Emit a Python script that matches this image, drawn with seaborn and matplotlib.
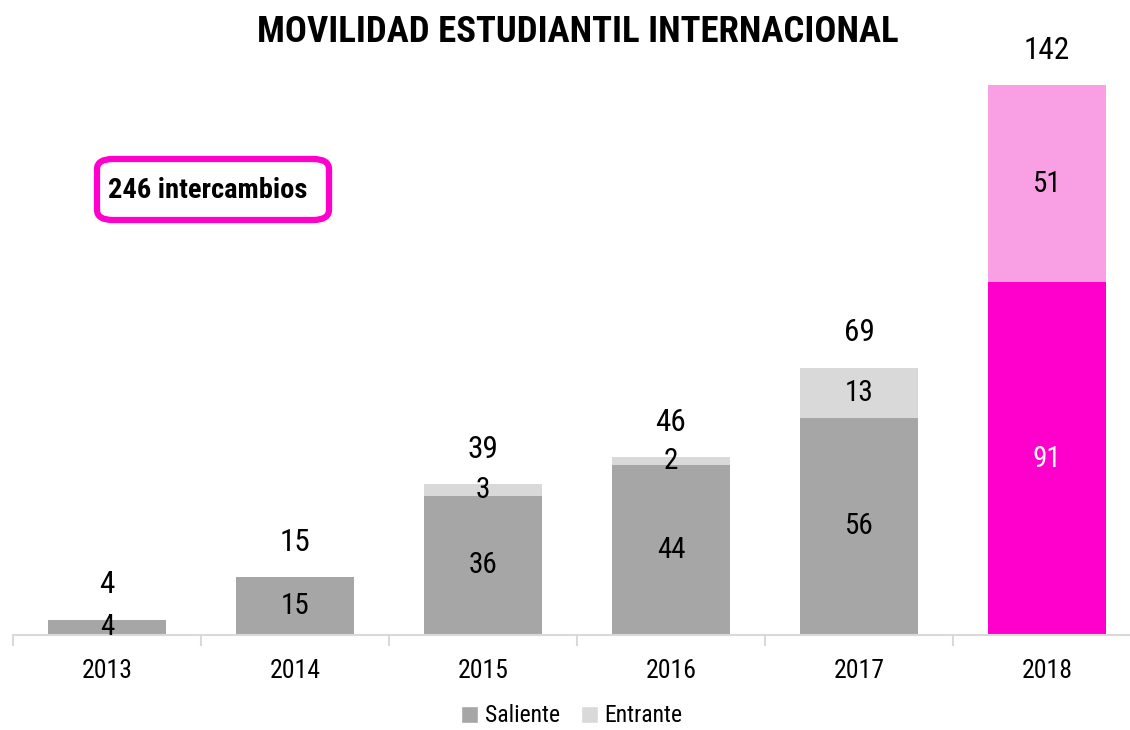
import matplotlib
matplotlib.use("Agg")
import matplotlib.pyplot as plt
from matplotlib import font_manager
from matplotlib.patches import Patch, FancyBboxPatch
import seaborn as sns
import pandas as pd

years = ["2013", "2014", "2015", "2016", "2017", "2018"]
saliente = [4, 15, 36, 44, 56, 91]
entrante = [0, 0, 3, 2, 13, 51]
totales = [4, 15, 39, 46, 69, 142]

sal_colors = ["#A6A6A6"] * 5 + ["#FF00CC"]
ent_colors = ["#D9D9D9"] * 5 + ["#F99FE3"]
sal_text = ["black"] * 5 + ["white"]

sns.set_theme(style="white")

# prefer a narrow sans face when one is installed
entries = font_manager.fontManager.ttflist
names = {f.name for f in entries}
family, stretch = "Liberation Sans", "normal"
for cand in ["Liberation Sans Narrow", "Arial Narrow", "Roboto Condensed",
             "Open Sans Condensed", "Noto Sans Condensed"]:
    if cand in names:
        family = cand
        break
else:
    if any(f.name == "DejaVu Sans" and f.stretch in ("condensed", 300)
           for f in entries):
        family, stretch = "DejaVu Sans", "condensed"
plt.rcParams["font.family"] = [family, "DejaVu Sans"]
plt.rcParams["font.stretch"] = stretch
plt.rcParams["text.color"] = "black"
plt.rcParams["xtick.color"] = "black"

df = pd.DataFrame({"year": years, "Saliente": saliente,
                   "Entrante": entrante, "Total": totales})

fig = plt.figure(figsize=(11.3, 7.3), dpi=100)
ax = fig.add_axes([13 / 1130, 95 / 730, 1128 / 1130, 620 / 730])

# full stack height in the Entrante colour, Saliente drawn over its lower part
sns.barplot(data=df, x="year", y="Total", hue="year", palette=ent_colors,
            width=0.63, legend=False, ax=ax, saturation=1, linewidth=0)
sns.barplot(data=df, x="year", y="Saliente", hue="year", palette=sal_colors,
            width=0.63, legend=False, ax=ax, saturation=1, linewidth=0)

ax.set_xlim(-0.5, 5.5)
ax.set_ylim(0, 160)
ax.set_xlabel("")
ax.set_ylabel("")
ax.set_yticks([])
for s in ["left", "right", "top"]:
    ax.spines[s].set_visible(False)
ax.spines["bottom"].set_color("#D9D9D9")
ax.spines["bottom"].set_linewidth(1.5)
ax.set_xticks(range(len(years)))
ax.set_xticklabels(years, fontsize=18.5, color="black")
ax.set_xticks([i - 0.5 for i in range(len(years) + 1)], minor=True)
ax.tick_params(axis="x", which="major", length=0, pad=17)
ax.tick_params(axis="x", which="minor", length=8, width=1.5, color="#D9D9D9",
               bottom=True)

# segment and total labels
for i in range(len(years)):
    ax.text(i, saliente[i] / 2, str(saliente[i]), ha="center", va="center",
            fontsize=21, color=sal_text[i])
    if entrante[i] > 0:
        ax.text(i, saliente[i] + entrante[i] / 2, str(entrante[i]),
                ha="center", va="center", fontsize=21, color="black")
    ax.annotate(str(totales[i]), xy=(i, totales[i]), xytext=(0, 25),
                textcoords="offset points", ha="center", va="center",
                fontsize=22.5, color="black", annotation_clip=False)

fig.text(578 / 1130, 1 - 32 / 730, "MOVILIDAD ESTUDIANTIL INTERNACIONAL",
         ha="center", va="center", fontsize=26.5, fontweight="bold")

box = FancyBboxPatch((97 / 1130, 1 - 220 / 730), 232 / 1130, 61 / 730,
                     boxstyle="round,pad=0,rounding_size=0.014",
                     transform=fig.transFigure, facecolor="white",
                     edgecolor="#FF00CC", linewidth=4.5)
fig.patches.append(box)
fig.text(108 / 1130, 1 - 190 / 730, "246 intercambios", ha="left",
         va="center", fontsize=20.5, fontweight="bold")

handles = [Patch(facecolor="#A6A6A6", label="Saliente"),
           Patch(facecolor="#D9D9D9", label="Entrante")]
fig.legend(handles=handles, loc="center",
           bbox_to_anchor=(572 / 1130, 1 - 716 / 730),
           ncol=2, frameon=False, fontsize=17, handlelength=0.7,
           handleheight=0.7, handletextpad=0.3, columnspacing=0.9,
           borderpad=0.2)

fig.savefig("out.png", dpi=100)
